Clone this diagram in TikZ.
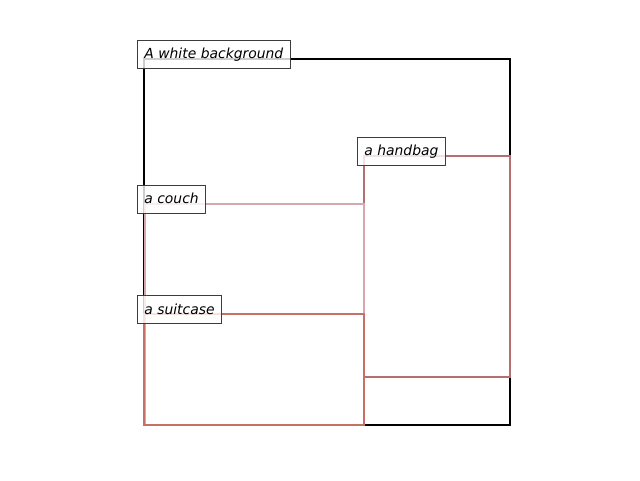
\documentclass[tikz,border=0pt]{standalone}
\usepackage{fontspec}
\setmainfont{DejaVu Sans}
\definecolor{couchc}{RGB}{212,168,172}
\definecolor{suitc}{RGB}{198,112,102}
\definecolor{bagc}{RGB}{180,112,112}
\definecolor{lblc}{RGB}{60,60,60}
\tikzset{
  box/.style={line width=2.5pt, line join=miter},
  lbl/.style={draw=lblc, line width=0.8pt, fill=white, fill opacity=0.8, text opacity=1,
    anchor=base west, inner xsep=7pt, inner ysep=6.5pt, text height=12pt, text depth=3pt,
    font=\fontsize{13.9}{16}\selectfont\itshape}
}
\begin{document}
\begin{tikzpicture}[x=1pt,y=1pt]
\useasboundingbox (0,0) rectangle (640,480);
% rectangles (y = 480 - pixel y)
\coordinate (bgA) at (144,421);
\coordinate (bgB) at (510,55);
\coordinate (hbA) at (364,324);
\coordinate (hbB) at (510,103);
\coordinate (coA) at (145,276);
\coordinate (coB) at (364,55);
\coordinate (suA) at (144,166);
\coordinate (suB) at (364,55);
\draw[box, black] (bgA) rectangle (bgB);
\draw[box, bagc] (hbA) rectangle (hbB);
\draw[box, couchc] (coA) rectangle (coB);
\draw[box, suitc] (suA) rectangle (suB);
% labels
\node[lbl] (lbg) at (137,421) {A white background};
\node[lbl] (lhb) at (357,324) {a handbag};
\node[lbl] (lco) at (137,276) {a couch};
\node[lbl] (lsu) at (137,166) {a suitcase};
\end{tikzpicture}
\end{document}
